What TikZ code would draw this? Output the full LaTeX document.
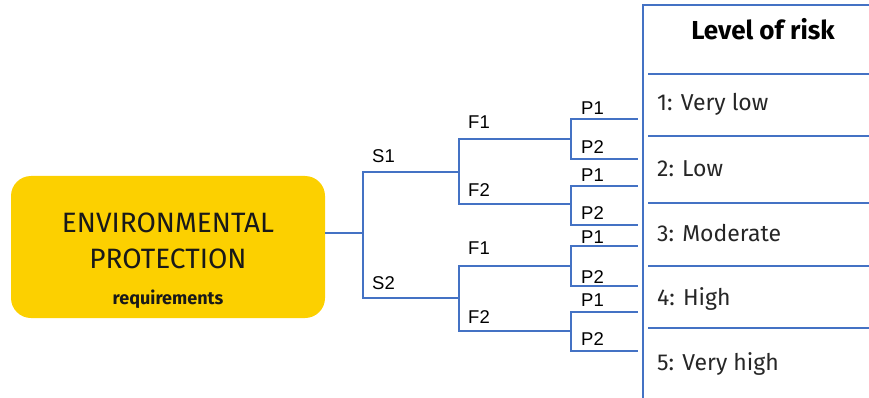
\documentclass[tikz,border=0pt]{standalone}
\usepackage{fontspec}
\setmainfont{Fira Sans}
\newfontfamily\arialfont{Liberation Sans}
\usetikzlibrary{positioning}
\definecolor{riskyellow}{RGB}{252,208,0}
\definecolor{riskblue}{RGB}{68,114,196}
\tikzset{
  branch/.style={draw=riskblue,line width=2pt},
  tabline/.style={draw=riskblue,line width=2pt},
  lbl/.style={inner sep=0pt,anchor=base west,font=\arialfont\fontsize{18.5}{18}\selectfont},
  risk/.style={inner sep=0pt,anchor=base west,font=\fontsize{23}{23}\selectfont,text=black!85},
  envtext/.style={inner sep=0pt,anchor=base,font=\fontsize{28}{28}\selectfont,text=black!90}
}
\begin{document}
\begin{tikzpicture}[line cap=butt,line join=miter,x=1pt,y=-1pt]
				\useasboundingbox (0,0) rectangle (869,398);
				% yellow box
				\node [fill=riskyellow,rounded corners=20pt,minimum width=314pt,minimum height=142pt,inner sep=0pt] (env) at (168,247) {};
				\node [envtext] (envA) at (168,232) {ENVIRONMENTAL};
				\node [envtext] (envB) at (168,268) {PROTECTION};
				\node [envtext,font=\bfseries\fontsize{18}{18}\selectfont] (envC) at (168,304) {requirements};
				% branch points
				\coordinate (root) at (363,233);
				\coordinate (s1) at (459,172);
				\coordinate (s2) at (459,298);
				\coordinate (f11) at (571,139);
				\coordinate (f12) at (571,204);
				\coordinate (f21) at (571,266);
				\coordinate (f22) at (571,331);
				\coordinate (p111) at (638,119);
				\coordinate (p112) at (638,159);
				\coordinate (p121) at (638,186);
				\coordinate (p122) at (638,225);
				\coordinate (p211) at (638,246);
				\coordinate (p212) at (638,286);
				\coordinate (p221) at (638,312);
				\coordinate (p222) at (638,351);
				% tree
				\draw [branch] (root -| env.east) -- (root);
				\draw [branch] (root) |- (s1);
				\draw [branch] (root) |- (s2);
				\draw [branch] (s1) |- (f11);
				\draw [branch] (s1) |- (f12);
				\draw [branch] (s2) |- (f21);
				\draw [branch] (s2) |- (f22);
				\draw [branch] (f11) |- (p111);
				\draw [branch] (f11) |- (p112);
				\draw [branch] (f12) |- (p121);
				\draw [branch] (f12) |- (p122);
				\draw [branch] (f21) |- (p211);
				\draw [branch] (f21) |- (p212);
				\draw [branch] (f22) |- (p221);
				\draw [branch] (f22) |- (p222);
				% branch labels
				\node [lbl] (ls1) at (372,163) {S1};
				\node [lbl] (ls2) at (372,289) {S2};
				\node [lbl] (lf11) at (468,129) {F1};
				\node [lbl] (lf12) at (468,196) {F2};
				\node [lbl] (lf21) at (468,254) {F1};
				\node [lbl] (lf22) at (468,323) {F2};
				\node [lbl] (lp111) at (581,115) {P1};
				\node [lbl] (lp112) at (581,154) {P2};
				\node [lbl] (lp121) at (581,182) {P1};
				\node [lbl] (lp122) at (581,219) {P2};
				\node [lbl] (lp211) at (581,243) {P1};
				\node [lbl] (lp212) at (581,283) {P2};
				\node [lbl] (lp221) at (581,306) {P1};
				\node [lbl] (lp222) at (581,345) {P2};
				% risk table
				\draw [tabline] (869,5) -- (643,5) -- (643,398);
				\foreach \y in {74,136,203,266,328}
					\draw [tabline] (648,\y) -- (869,\y);
				\node [inner sep=0pt,anchor=base,font=\bfseries\fontsize{26}{26}\selectfont] (head) at (763,40) {Level of risk};
				\node [risk] (r1) at (657,111) {1: Very low};
				\node [risk] (r2) at (657,176) {2: Low};
				\node [risk] (r3) at (657,241) {3: Moderate};
				\node [risk] (r4) at (657,305) {4: High};
				\node [risk] (r5) at (657,370) {5: Very high};
			\end{tikzpicture}
\end{document}
